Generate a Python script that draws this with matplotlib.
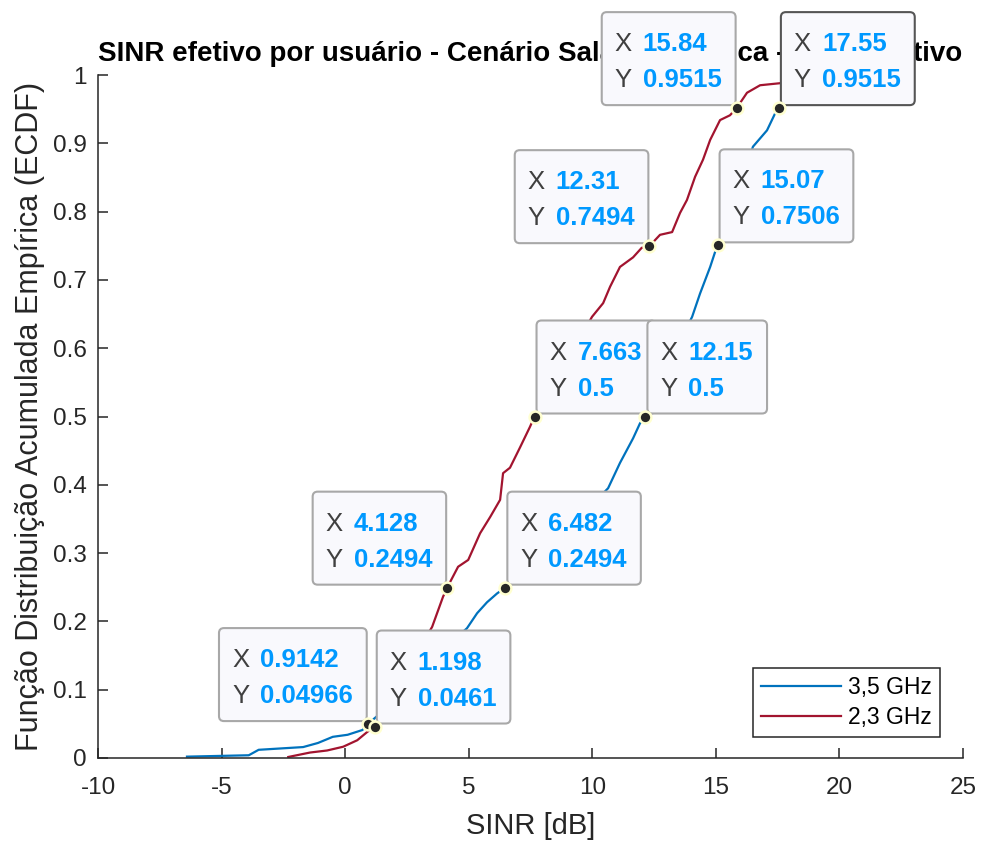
import matplotlib
matplotlib.use('Agg')
import matplotlib.pyplot as plt
import matplotlib.transforms as mtransforms
from matplotlib.patches import FancyBboxPatch
from matplotlib.ticker import FuncFormatter

plt.rcParams['font.family'] = ['Liberation Sans', 'DejaVu Sans']
plt.rcParams['axes.unicode_minus'] = False

# ECDF 3,5 GHz
sinr_35 = [-6.4, -3.9, -3.5, -1.7, -1.1, -0.5, 0.1, 0.7, 0.9142, 1.9, 3.0, 4.0,
           4.93, 5.34, 5.74, 6.15, 6.482, 7.5, 8.6, 9.7, 10.64, 11.12, 11.65,
           11.93, 12.15, 13.0, 14.04, 14.36, 14.77, 14.97, 15.07, 15.6, 16.1,
           16.5, 17.07, 17.4, 17.55, 18.3, 19.2, 20.4]
ecdf_35 = [0.002, 0.004, 0.012, 0.016, 0.022, 0.031, 0.034, 0.041, 0.04966,
           0.08, 0.12, 0.16, 0.19, 0.212, 0.228, 0.241, 0.2494, 0.29, 0.33,
           0.36, 0.395, 0.432, 0.468, 0.49, 0.5, 0.57, 0.646, 0.68, 0.719,
           0.741, 0.7506, 0.80, 0.85, 0.895, 0.919, 0.944, 0.9515, 0.975,
           0.99, 1.0]

# ECDF 2,3 GHz
sinr_23 = [-2.3, -1.42, -0.73, -0.08, 0.49, 0.89, 1.198, 2.3, 3.0, 3.52, 3.96,
           4.128, 4.57, 4.98, 5.46, 5.87, 6.27, 6.39, 6.67, 7.08, 7.48, 7.663,
           8.8, 9.99, 10.44, 10.72, 11.12, 11.65, 12.0, 12.31, 12.74, 13.23,
           13.55, 13.83, 14.16, 14.48, 14.77, 15.17, 15.57, 15.84, 16.26,
           16.79, 17.6, 18.5, 19.0]
ecdf_23 = [0.0015, 0.008, 0.011, 0.0165, 0.026, 0.038, 0.0461, 0.11, 0.16,
           0.192, 0.236, 0.2494, 0.28, 0.29, 0.329, 0.353, 0.378, 0.417, 0.425,
           0.455, 0.485, 0.5, 0.57, 0.646, 0.666, 0.69, 0.719, 0.733, 0.747,
           0.7494, 0.766, 0.77, 0.798, 0.817, 0.851, 0.876, 0.905, 0.934,
           0.941, 0.9515, 0.974, 0.985, 0.988, 0.995, 1.0]

# datatips
tip_x = [0.9142, 1.198, 4.128, 6.482, 7.663, 12.15, 12.31, 15.07, 15.84, 17.55]
tip_y = [0.04966, 0.0461, 0.2494, 0.2494, 0.5, 0.5, 0.7494, 0.7506, 0.9515, 0.9515]
tip_side = ['ul', 'ur', 'ul', 'ur', 'ur', 'ur', 'ul', 'ur', 'ul', 'ur']

series_labels = ['3,5 GHz', '2,3 GHz']
xticks = [-10, -5, 0, 5, 10, 15, 20, 25]
yticks = [0, 0.1, 0.2, 0.3, 0.4, 0.5, 0.6, 0.7, 0.8, 0.9, 1]

dark = '#262626'
fig = plt.figure(figsize=(9.81, 8.41), dpi=100)
ax = fig.add_axes([98/981, 83/841, 865/981, 683/841])

ax.plot(sinr_35, ecdf_35, color='#0072BD', lw=1.6, label=series_labels[0])
ax.plot(sinr_23, ecdf_23, color='#A2142F', lw=1.6, label=series_labels[1])

ax.set_xlim(-10, 25)
ax.set_ylim(0, 1)
ax.set_xticks(xticks)
ax.set_yticks(yticks)
ax.yaxis.set_major_formatter(FuncFormatter(lambda v, p: f'{v:g}'))
for s in ['top', 'right']:
    ax.spines[s].set_visible(False)
for s in ['left', 'bottom']:
    ax.spines[s].set_color(dark)
    ax.spines[s].set_linewidth(1.1)
ax.tick_params(direction='in', length=7, width=1.1, colors=dark,
               labelsize=17.5, pad=8)
ax.tick_params(axis='x', pad=14)

ax.set_xlabel('SINR [dB]', fontsize=21, color=dark, labelpad=9)
ax.set_ylabel('Função Distribuição Acumulada Empírica (ECDF)', fontsize=22,
              color=dark, labelpad=6)
ax.set_title('SINR efetivo por usuário - Cenário Sala Acadêmica - Comparativo',
             fontsize=20, fontweight='bold', color='black', pad=10)

leg = ax.legend(loc='lower right', bbox_to_anchor=(0.9734, 0.0307),
                fontsize=16.5, handlelength=3.5, handletextpad=0.3,
                borderpad=0.35, labelspacing=0.3, borderaxespad=0,
                fancybox=False, framealpha=1)
leg.get_frame().set_edgecolor(dark)
leg.get_frame().set_linewidth(1.1)

# datatips: caixas em pixels a partir do ponto
tips = []
for x, y in zip(tip_x, tip_y):
    tr = mtransforms.Affine2D() + mtransforms.ScaledTranslation(x, y, ax.transData)
    tx = ax.text(0, 0, f'{x:.4g}', transform=tr, color='#0099FF',
                 fontweight='bold', fontsize=18.5, va='center')
    ty = ax.text(0, 0, f'{y:.4g}', transform=tr, color='#0099FF',
                 fontweight='bold', fontsize=18.5, va='center')
    tips.append((tr, tx, ty))

fig.canvas.draw()
r = fig.canvas.get_renderer()
for i, ((tr, tx, ty), side) in enumerate(zip(tips, tip_side)):
    w = max(tx.get_window_extent(r).width, ty.get_window_extent(r).width)
    W = 41 + w + 14
    H = 93
    left = -1 - W if side == 'ul' else 2
    bottom = 3
    z = 10 + i
    ec = '#555555' if i == len(tips) - 1 else '#a8a8a8'
    ax.add_patch(FancyBboxPatch((left, bottom), W, H,
                                boxstyle='round,pad=0,rounding_size=5',
                                transform=tr, fc='#f9f9fd', ec=ec, lw=1.5,
                                clip_on=False, zorder=z))
    ax.text(left + 13, bottom + H - 32, 'X', transform=tr, color='#404040',
            fontsize=18.5, va='center', zorder=z + 0.5)
    ax.text(left + 13, bottom + H - 68, 'Y', transform=tr, color='#404040',
            fontsize=18.5, va='center', zorder=z + 0.5)
    tx.set_position((left + 41, bottom + H - 32))
    ty.set_position((left + 41, bottom + H - 68))
    tx.set_zorder(z + 0.5)
    ty.set_zorder(z + 0.5)

ax.plot(tip_x, tip_y, 'o', ms=8.5, mfc=dark, mec='#ffffd0', mew=1.8,
        ls='none', zorder=30, clip_on=False)

fig.savefig('out.png', dpi=100)
